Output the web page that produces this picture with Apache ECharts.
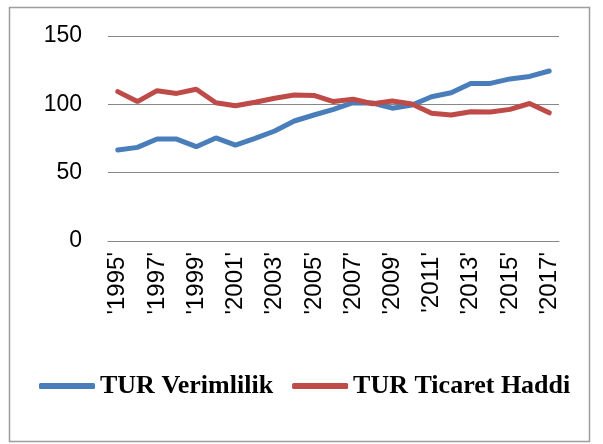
<!DOCTYPE html>
<html lang="tr">
  <head>
    <meta charset="UTF-8" />
    <title>TUR Verimlilik / Ticaret Haddi</title>
    <script src="https://cdn.jsdelivr.net/npm/echarts@6.0.0/dist/echarts.min.js"></script>
  </head>
  <style>
    html,
    body {
      margin: 0;
      padding: 0;
      background: #fff;
    }
    #echart {
      width: 603px;
      height: 444px;
    }
  </style>
  <body>
    <div id="echart"></div>
  </body>
  <script>
    const years = [
      "'1995'", "'1996'", "'1997'", "'1998'", "'1999'", "'2000'", "'2001'", "'2002'",
      "'2003'", "'2004'", "'2005'", "'2006'", "'2007'", "'2008'", "'2009'", "'2010'",
      "'2011'", "'2012'", "'2013'", "'2014'", "'2015'", "'2016'", "'2017'",
    ];
    const verimlilik = [
      66.6, 68.5, 74.6, 74.6, 69.0, 75.4, 70.2, 75.1, 80.5, 87.8, 92.2, 96.3,
      101.2, 101.0, 97.2, 99.5, 105.6, 108.5, 115.3, 115.3, 118.6, 120.4, 124.4,
    ];
    const ticaretHaddi = [
      109.3, 102.0, 110.0, 108.0, 111.0, 101.2, 99.0, 101.5, 104.4, 106.8, 106.5, 102.0,
      103.7, 100.4, 102.4, 100.2, 93.4, 92.2, 94.6, 94.4, 96.3, 100.6, 93.8,
    ];
    const seriesNames = ["TUR Verimlilik", "TUR Ticaret Haddi"];
    const yTicks = { min: 0, max: 150, interval: 50 };

    const chart = echarts.init(document.getElementById("echart"));

    const option = {
      animation: false,
      graphic: [
        {
          type: "rect",
          shape: { x: 9.5, y: 7.5, width: 580, height: 434 },
          style: { fill: "none", stroke: "#9d9d9d", lineWidth: 1.5 },
        },
      ],
      grid: { left: 108, right: 44, top: 36, bottom: 203 },
      legend: {
        bottom: 40,
        left: 34,
        itemWidth: 56,
        itemHeight: 6,
        itemGap: 19,
        icon: "roundRect",
        textStyle: {
          fontFamily: "Liberation Serif",
          fontWeight: "bold",
          fontSize: 26,
          color: "#000",
        },
        data: seriesNames,
      },
      xAxis: {
        type: "category",
        data: years,
        boundaryGap: true,
        axisLine: { lineStyle: { color: "#878787", width: 1 } },
        axisTick: { show: false },
        axisLabel: {
          interval: 1,
          rotate: 90,
          margin: 11,
          color: "#000",
          fontFamily: "Liberation Sans",
          fontSize: 24,
        },
      },
      yAxis: {
        type: "value",
        min: yTicks.min,
        max: yTicks.max,
        interval: yTicks.interval,
        axisLine: { show: false },
        axisTick: { show: false },
        splitLine: { lineStyle: { color: "#878787", width: 1 } },
        axisLabel: {
          margin: 26,
          color: "#000",
          fontFamily: "Liberation Sans",
          fontSize: 23,
        },
      },
      series: [
        {
          name: seriesNames[0],
          type: "line",
          data: verimlilik,
          symbol: "none",
          lineStyle: { color: "#4a7ebb", width: 5, cap: "round" },
          itemStyle: { color: "#4a7ebb" },
        },
        {
          name: seriesNames[1],
          type: "line",
          data: ticaretHaddi,
          symbol: "none",
          lineStyle: { color: "#be4b48", width: 5, cap: "round" },
          itemStyle: { color: "#be4b48" },
        },
      ],
    };

    chart.setOption(option);
  </script>
</html>
